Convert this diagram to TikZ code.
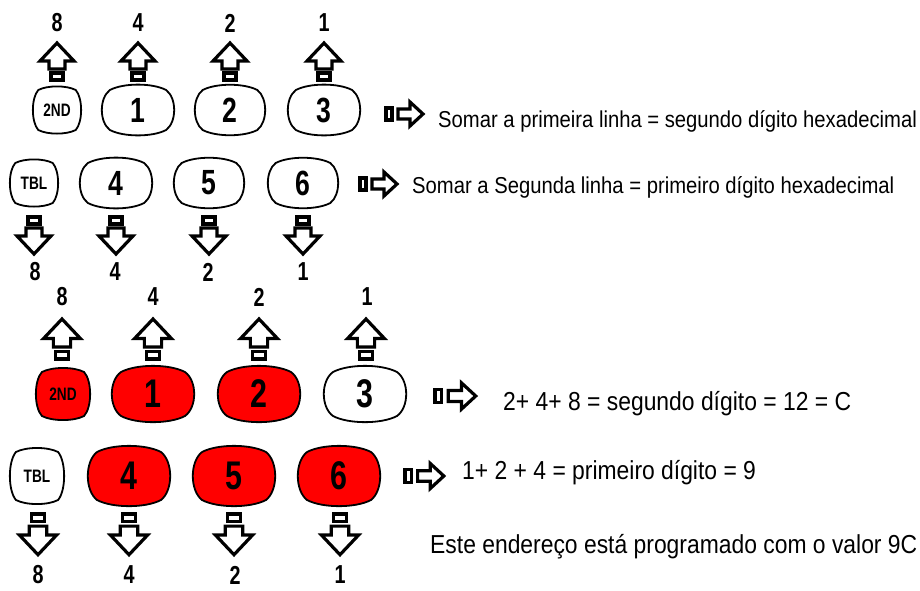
\documentclass[tikz,border=0pt]{standalone}
\usepackage{fontspec}
\setmainfont{Liberation Sans}[FakeStretch=0.88]
\newfontfamily\narrowfont{Liberation Sans}[FakeStretch=0.76]
\definecolor{keyred}{RGB}{255,0,0}
\tikzset{
  keyline/.style={draw=black, line width=1.8pt},
  keydigit/.style={inner sep=0pt, font=\fontsize{35}{35}\narrowfont\bfseries},
  keybig/.style={inner sep=0pt, font=\fontsize{40}{40}\narrowfont\bfseries},
  keyword/.style={inner sep=0pt, font=\fontsize{18}{18}\narrowfont\bfseries},
  weight/.style={inner sep=0pt, font=\fontsize{26}{26}\narrowfont\bfseries},
  note/.style={anchor=base west, inner sep=0pt, font=\fontsize{23}{26}\selectfont},
  bignote/.style={note, font=\fontsize{26}{28}\selectfont},
  glyph/.style={line width=3.2pt, line join=miter},
  pics/uparrow/.style={code={
    \draw[glyph] (0,0) -- (17,18) -- (8,18) -- (8,26) -- (-8,26) -- (-8,18) -- (-17,18) -- cycle;
    \draw[glyph] (-6,30) rectangle (6,37);
  }},
  pics/downarrow/.style={code={
    \draw[glyph] (-6,0) rectangle (6,7);
    \draw[glyph] (-8,11) -- (8,11) -- (8,19) -- (17,19) -- (0,37) -- (-17,19) -- (-8,19) -- cycle;
  }},
  pics/rightarrow/.style={code={
    \draw[glyph] (0,-6) rectangle (6,6);
    \draw[glyph] (12,-5) -- (24,-5) -- (24,-12) -- (37,0) -- (24,12) -- (24,5) -- (12,5) -- cycle;
  }}
}
% key with bulging sides: [text style]{name}{x}{y}{half width}{half height}{fill}{text}
\newcommand{\keycap}[8][keydigit]{%
  \draw[keyline, fill=#7]
    ({#3-0.78*#5},{#4-#6}) .. controls ({#3-0.4*#5},{#4-#6-0.2*#5}) and ({#3+0.4*#5},{#4-#6-0.2*#5}) .. ({#3+0.78*#5},{#4-#6})
    .. controls ({#3+1.08*#5},{#4-0.6*#6}) and ({#3+1.08*#5},{#4+0.6*#6}) .. ({#3+0.78*#5},{#4+#6})
    .. controls ({#3+0.4*#5},{#4+#6+0.2*#5}) and ({#3-0.4*#5},{#4+#6+0.2*#5}) .. ({#3-0.78*#5},{#4+#6})
    .. controls ({#3-1.08*#5},{#4+0.6*#6}) and ({#3-1.08*#5},{#4-0.6*#6}) .. cycle;
  \node[#1] (#2) at (#3,#4) {#8};}
\begin{document}
\begin{tikzpicture}[x=1pt,y=-1pt]
  \useasboundingbox (0,0) rectangle (920,590);

  % first example: plain keys
  \path
    (57,23) node[weight] (a8){8}
    (138,23) node[weight] (a4){4}
    (230,23) node[weight] (a2){2}
    (324,23) node[weight] (a1){1};
  \pic (ua8) at (57,43) {uparrow};
  \pic (ua4) at (138,43) {uparrow};
  \pic (ua2) at (230,43) {uparrow};
  \pic (ua1) at (324,43) {uparrow};

  \keycap[keyword]{k2nd}{57}{110}{24}{20}{white}{2ND}
  \keycap{k1}{138}{110}{36}{20}{white}{1}
  \keycap{k2}{230}{110}{35}{20}{white}{2}
  \keycap{k3}{324}{110}{36}{20}{white}{3}
  \pic (ra) at (386,114) {rightarrow};
  \node[note] (sa) at (438,127) {Somar a primeira linha = segundo dígito hexadecimal};

  \keycap[keyword]{ktbl}{34}{183}{24}{20}{white}{TBL}
  \keycap{k4}{116}{183}{36}{20}{white}{4}
  \keycap{k5}{209}{183}{35}{20}{white}{5}
  \keycap{k6}{303}{183}{35}{20}{white}{6}
  \pic (rb) at (360,184) {rightarrow};
  \node[note] (sb) at (412,193) {Somar a Segunda linha = primeiro dígito hexadecimal};

  \pic (db8) at (34,217) {downarrow};
  \pic (db4) at (116,217) {downarrow};
  \pic (db2) at (209,217) {downarrow};
  \pic (db1) at (303,217) {downarrow};
  \path
    (35,272) node[weight] (b8){8}
    (115,272) node[weight] (b4){4}
    (208,272) node[weight] (b2){2}
    (303,272) node[weight] (b1){1};

  % second example: pressed keys in red
  \path
    (62,297) node[weight] (c8){8}
    (153,297) node[weight] (c4){4}
    (259,297) node[weight] (c2){2}
    (367,297) node[weight] (c1){1};
  \pic[scale=1.08] (uc8) at (62,319) {uparrow};
  \pic[scale=1.08] (uc4) at (153,319) {uparrow};
  \pic[scale=1.08] (uc2) at (259,319) {uparrow};
  \pic[scale=1.08] (uc1) at (366,319) {uparrow};

  \keycap[keyword]{m2nd}{63}{394}{27}{22}{keyred}{2ND}
  \keycap[keybig]{m1}{153}{394}{41}{22}{keyred}{1}
  \keycap[keybig]{m2}{259}{394}{41}{22}{keyred}{2}
  \keycap[keybig]{m3}{365}{394}{41}{22}{white}{3}
  \pic[scale=1.1] (rc) at (435,396) {rightarrow};
  \node[bignote] (sc) at (503,410) {2+ 4+ 8 = segundo dígito = 12 = C};

  \keycap[keyword]{mtbl}{37}{476}{27}{24}{white}{TBL}
  \keycap[keybig]{m4}{129}{476}{41}{24}{keyred}{4}
  \keycap[keybig]{m5}{234}{476}{41}{24}{keyred}{5}
  \keycap[keybig]{m6}{339}{476}{41}{24}{keyred}{6}
  \pic[scale=1.05] (rd) at (405,476) {rightarrow};
  \node[bignote] (sd) at (462,479) {1+ 2 + 4 = primeiro dígito = 9};

  \pic[scale=1.1] (dd8) at (38,514) {downarrow};
  \pic[scale=1.1] (dd4) at (129,514) {downarrow};
  \pic[scale=1.1] (dd2) at (234,514) {downarrow};
  \pic[scale=1.1] (dd1) at (340,514) {downarrow};
  \path
    (38,575) node[weight] (d8){8}
    (129,575) node[weight] (d4){4}
    (235,575) node[weight] (d2){2}
    (340,575) node[weight] (d1){1};
  \node[bignote] (se) at (430,553) {Este endereço está programado com o valor 9C};
\end{tikzpicture}
\end{document}
